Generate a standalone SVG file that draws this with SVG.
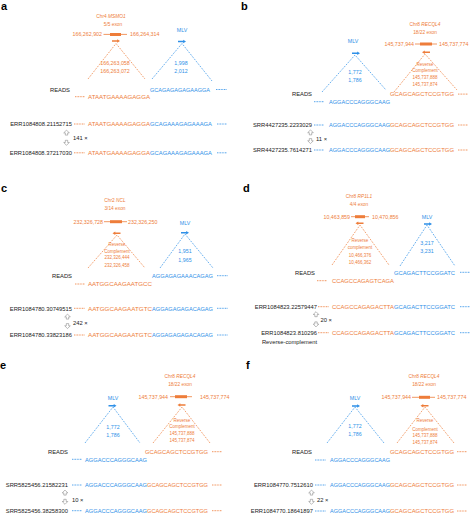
<svg xmlns="http://www.w3.org/2000/svg" width="474" height="522" viewBox="0 0 474 522">
<style>
text{font-family:"Liberation Sans",Arial,sans-serif}
.pl{font-size:11px;font-weight:bold;fill:#000}
.k{fill:#222}
.o{fill:#EE7D3A}
.b{fill:#2E90E8}
.lab{font-size:5.8px}
.seq{font-size:6px}
.gn{font-size:4.8px;text-anchor:middle}
.co{font-size:5.3px}
.rc{font-size:4.5px;text-anchor:middle}
.mid{text-anchor:middle}
.end{text-anchor:end}
.dl{fill:none;stroke-width:0.7;stroke-dasharray:1.8 1.2}
.so{stroke:#EE7D3A}
.sb{stroke:#2E90E8}
.dot{stroke-width:0.9;stroke-dasharray:0.9 0.7}
.gl{stroke:#EE7D3A;stroke-width:0.8}
.ha{fill:#fff;stroke:#777;stroke-width:0.5}
</style>
<defs>
<path id="ar" d="M-4,-0.8H1.2V-1.8L4,0L1.2,1.8V0.8H-4Z"/>
<path id="up" d="M0,-2.6L2.8,0.2H1.2V2.4H-1.2V0.2H-2.8Z"/>
</defs>

<g id="connectors">
<!-- a -->
<path class="dl so" d="M88,79L116,43.5L145,79"/>
<path class="dl sb" d="M152,79L182,43.5L212,81"/>
<!-- b -->
<path class="dl so" d="M394,92L425,54L457,90"/>
<path class="dl sb" d="M322,92L355,55L386,90"/>
<!-- c -->
<path class="dl so" d="M88,268L117,235L145,268"/>
<path class="dl sb" d="M160,268L185,234L213,268"/>
<!-- d -->
<path class="dl so" d="M332,265L360,225L389,265"/>
<path class="dl sb" d="M400,266L427,225L455,266"/>
<!-- e -->
<path class="dl so" d="M153,443L182,407L210,443"/>
<path class="dl sb" d="M85,443L113,407L140,443"/>
<!-- f -->
<path class="dl so" d="M397,443L425,407L454,443"/>
<path class="dl sb" d="M327,443L355,407L384,443"/>
</g>

<g id="panel-a">
<text class="pl" x="1" y="10">a</text>
<g id="a-gene">
<text class="gn o" x="111" y="18">Chr4 <tspan font-style="italic">MSMO1</tspan></text>
<text class="gn o" x="113" y="26">5/5 exon</text>
<text class="co o end" x="102" y="36.3">166,262,902</text>
<line class="gl" x1="103.5" y1="34.4" x2="127" y2="34.4"/>
<rect class="o" x="110" y="33" width="11" height="3"/>
<text class="co o" x="130" y="36.3">166,264,314</text>
<use href="#ar" class="o" x="116" y="41"/>
<text class="co o mid" x="115" y="65.3">166,263,058</text>
<text class="co o mid" x="115" y="73">166,263,072</text>
</g>
<g id="a-mlv">
<text class="co b mid" x="182" y="32.3">MLV</text>
<use href="#ar" class="b" x="182" y="41.5"/>
<text class="co b mid" x="181" y="65.3">1,998</text>
<text class="co b mid" x="181" y="73">2,012</text>
</g>
<g id="a-reads">
<text class="lab k end" x="70" y="91.5">READS</text>
<text class="seq b" x="150" y="91.5" textLength="60" lengthAdjust="spacingAndGlyphs">GCAGAGAGAGAAGGA</text>
<line class="dot sb" x1="216" y1="89.5" x2="227" y2="89.5"/>
<line class="dot so" x1="75" y1="96.7" x2="85" y2="96.7"/>
<text class="seq o" x="88" y="98.9" textLength="62" lengthAdjust="spacingAndGlyphs">ATAATGAAAAGAGGA</text>
</g>
<g id="a-read1">
<text class="lab k end" x="72" y="126.2">ERR1084808.21152715</text>
<line class="dot so" x1="74" y1="124" x2="85" y2="124"/>
<text class="seq o" x="88" y="126.2" textLength="62" lengthAdjust="spacingAndGlyphs">ATAATGAAAAGAGGA</text>
<text class="seq b" x="150" y="126.2" textLength="62" lengthAdjust="spacingAndGlyphs">GCAGAAAGAGAAAGA</text>
<line class="dot sb" x1="217" y1="124" x2="227" y2="124"/>
</g>
<g id="a-count">
<use href="#up" class="ha" transform="translate(66.5,132.7)"/>
<use href="#up" class="ha" transform="translate(66.5,142.7) rotate(180)"/>
<text class="lab k" x="73" y="139.5">141 ×</text>
</g>
<g id="a-read2">
<text class="lab k end" x="72" y="155">ERR1084808.37217030</text>
<line class="dot so" x1="74" y1="152.8" x2="85" y2="152.8"/>
<text class="seq o" x="88" y="155" textLength="62" lengthAdjust="spacingAndGlyphs">ATAATGAAAAGAGGA</text>
<text class="seq b" x="150" y="155" textLength="62" lengthAdjust="spacingAndGlyphs">GCAGAAAGAGAAAGA</text>
<line class="dot sb" x1="217" y1="152.8" x2="227" y2="152.8"/>
</g>
</g>

<g id="panel-b">
<text class="pl" x="241" y="10">b</text>
<g id="b-gene">
<text class="gn o" x="425" y="26">Chr8 <tspan font-style="italic">RECQL4</tspan></text>
<text class="gn o" x="425" y="34.3">18/22 exon</text>
<text class="co o end" x="414" y="46">145,737,944</text>
<line class="gl" x1="415" y1="44" x2="437" y2="44"/>
<rect class="o" x="420" y="42.5" width="12" height="3"/>
<text class="co o" x="439" y="46">145,737,774</text>
<use href="#ar" class="o" transform="translate(426,52.3) scale(-1,1)"/>
<text class="rc o" x="425" y="65.7">Reverse</text>
<text class="rc o" x="425" y="72.4">Complement</text>
<text class="rc o" x="425" y="78.7">145,737,888</text>
<text class="rc o" x="425" y="85.7">145,737,874</text>
</g>
<g id="b-mlv">
<text class="co b mid" x="353" y="42.5">MLV</text>
<use href="#ar" class="b" x="356" y="53.3"/>
<text class="co b mid" x="355" y="73.5">1,772</text>
<text class="co b mid" x="355" y="81.8">1,786</text>
</g>
<g id="b-reads">
<text class="lab k end" x="312" y="96.3">READS</text>
<text class="seq o" x="390" y="96.3" textLength="64" lengthAdjust="spacingAndGlyphs">GCAGCAGCTCCGTGG</text>
<line class="dot so" x1="458" y1="94.1" x2="468" y2="94.1"/>
<line class="dot sb" x1="314" y1="101.7" x2="324" y2="101.7"/>
<text class="seq b" x="329" y="103.9" textLength="61" lengthAdjust="spacingAndGlyphs">AGGACCCAGGGCAAG</text>
</g>
<g id="b-read1">
<text class="lab k end" x="312" y="127.2">SRR4427235.2233029</text>
<line class="dot sb" x1="314" y1="125" x2="324" y2="125"/>
<text class="seq b" x="329" y="127.2" textLength="61" lengthAdjust="spacingAndGlyphs">AGGACCCAGGGCAAG</text>
<text class="seq o" x="390" y="127.2" textLength="64" lengthAdjust="spacingAndGlyphs">GCAGCAGCTCCGTGG</text>
<line class="dot so" x1="458" y1="125" x2="468" y2="125"/>
</g>
<g id="b-count">
<use href="#up" class="ha" transform="translate(310.5,132.5)"/>
<use href="#up" class="ha" transform="translate(310.5,141) rotate(180)"/>
<text class="lab k" x="316" y="141">11 ×</text>
</g>
<g id="b-read2">
<text class="lab k end" x="312" y="152.2">SRR4427235.7614271</text>
<line class="dot sb" x1="314" y1="150" x2="324" y2="150"/>
<text class="seq b" x="329" y="152.2" textLength="61" lengthAdjust="spacingAndGlyphs">AGGACCCAGGGCAAG</text>
<text class="seq o" x="390" y="152.2" textLength="64" lengthAdjust="spacingAndGlyphs">GCAGCAGCTCCGTGG</text>
<line class="dot so" x1="458" y1="150" x2="468" y2="150"/>
</g>
</g>

<g id="panel-c">
<text class="pl" x="1" y="192">c</text>
<g id="c-gene">
<text class="gn o" x="115" y="202">Chr2 <tspan font-style="italic">NCL</tspan></text>
<text class="gn o" x="115" y="210.3">3/14 exon</text>
<text class="co o end" x="103" y="223.5">232,326,728</text>
<line class="gl" x1="104" y1="221.7" x2="127" y2="221.7"/>
<rect class="o" x="110" y="220.2" width="12" height="3"/>
<text class="co o" x="128" y="223.5">232,326,250</text>
<use href="#ar" class="o" transform="translate(116.5,233.3) scale(-1,1)"/>
<text class="rc o" x="117" y="245.7">Reverse</text>
<text class="rc o" x="117" y="252.7">Complement</text>
<text class="rc o" x="117" y="259.4">232,326,444</text>
<text class="rc o" x="117" y="266.7">232,326,458</text>
</g>
<g id="c-mlv">
<text class="co b mid" x="185" y="224.5">MLV</text>
<use href="#ar" class="b" x="185" y="232.7"/>
<text class="co b mid" x="185" y="252.8">1,951</text>
<text class="co b mid" x="185" y="261.8">1,965</text>
</g>
<g id="c-reads">
<text class="lab k end" x="72" y="277.9">READS</text>
<text class="seq b" x="152" y="277.9" textLength="61" lengthAdjust="spacingAndGlyphs">AGGAGAGAAACAGAG</text>
<line class="dot sb" x1="217" y1="275.7" x2="228" y2="275.7"/>
<line class="dot so" x1="75" y1="284" x2="85" y2="284"/>
<text class="seq o" x="88" y="286.2" textLength="64" lengthAdjust="spacingAndGlyphs">AATGGCAAGAATGCC</text>
</g>
<g id="c-read1">
<text class="lab k end" x="72" y="310.5">ERR1084780.30749515</text>
<line class="dot so" x1="74" y1="308.3" x2="85" y2="308.3"/>
<text class="seq o" x="88" y="310.5" textLength="64" lengthAdjust="spacingAndGlyphs">AATGGCAAGAATGTC</text>
<text class="seq b" x="152" y="310.5" textLength="61" lengthAdjust="spacingAndGlyphs">AGGAGAGAGACAGAG</text>
<line class="dot sb" x1="217" y1="308.3" x2="228" y2="308.3"/>
</g>
<g id="c-count">
<use href="#up" class="ha" transform="translate(67.5,316.7)"/>
<use href="#up" class="ha" transform="translate(67.5,326) rotate(180)"/>
<text class="lab k" x="73" y="324.5">242 ×</text>
</g>
<g id="c-read2">
<text class="lab k end" x="72" y="337.2">ERR1084780.33823186</text>
<line class="dot so" x1="74" y1="335" x2="85" y2="335"/>
<text class="seq o" x="88" y="337.2" textLength="64" lengthAdjust="spacingAndGlyphs">AATGGCAAGAATGTC</text>
<text class="seq b" x="152" y="337.2" textLength="61" lengthAdjust="spacingAndGlyphs">AGGAGAGAGACAGAG</text>
<line class="dot sb" x1="217" y1="335" x2="228" y2="335"/>
</g>
</g>

<g id="panel-d">
<text class="pl" x="243" y="192">d</text>
<g id="d-gene">
<text class="gn o" x="359" y="197.5">Chr8 <tspan font-style="italic">RP1L1</tspan></text>
<text class="gn o" x="359" y="205.8">4/4 exon</text>
<text class="co o end" x="350" y="218.5">10,463,859</text>
<line class="gl" x1="351" y1="216.7" x2="369" y2="216.7"/>
<rect class="o" x="355" y="215.2" width="10" height="3"/>
<text class="co o" x="372" y="218.5">10,470,856</text>
<use href="#ar" class="o" transform="translate(359.5,223.3) scale(-1,1)"/>
<text class="rc o" x="360" y="242.4">Reverse</text>
<text class="rc o" x="360" y="249">complement</text>
<text class="rc o" x="360" y="256.7">10,466,376</text>
<text class="rc o" x="360" y="264">10,466,362</text>
</g>
<g id="d-mlv">
<text class="co b mid" x="427" y="219">MLV</text>
<use href="#ar" class="b" x="428" y="224"/>
<text class="co b mid" x="427" y="245">3,217</text>
<text class="co b mid" x="427" y="252.8">3,231</text>
</g>
<g id="d-reads">
<text class="lab k end" x="315" y="274.5">READS</text>
<text class="seq b" x="394" y="274.5" textLength="61" lengthAdjust="spacingAndGlyphs">GCAGACTTCCGGATC</text>
<line class="dot sb" x1="460" y1="272.3" x2="470" y2="272.3"/>
<line class="dot so" x1="317" y1="280.7" x2="327" y2="280.7"/>
<text class="seq o" x="332" y="282.9" textLength="62" lengthAdjust="spacingAndGlyphs">CCAGCCAGAGTCAGA</text>
</g>
<g id="d-read1">
<text class="lab k end" x="317" y="308.9">ERR1084823.22579447</text>
<line class="dot so" x1="318" y1="306.7" x2="329" y2="306.7"/>
<text class="seq o" x="332" y="308.9" textLength="62" lengthAdjust="spacingAndGlyphs">CCAGCCAGAGACTTA</text>
<text class="seq b" x="394" y="308.9" textLength="61" lengthAdjust="spacingAndGlyphs">GCAGACTTCCGGATC</text>
<line class="dot sb" x1="460" y1="306.7" x2="470" y2="306.7"/>
</g>
<g id="d-count">
<use href="#up" class="ha" transform="translate(316,314.3)"/>
<use href="#up" class="ha" transform="translate(316,324.3) rotate(180)"/>
<text class="lab k" x="320.5" y="322.2">20 ×</text>
</g>
<g id="d-read2">
<text class="lab k end" x="317" y="334.9">ERR1084823.810296</text>
<text class="lab k end" x="317" y="343.9">Reverse-complement</text>
<line class="dot so" x1="318" y1="332.7" x2="329" y2="332.7"/>
<text class="seq o" x="332" y="334.9" textLength="62" lengthAdjust="spacingAndGlyphs">CCAGCCAGAGACTTA</text>
<text class="seq b" x="394" y="334.9" textLength="61" lengthAdjust="spacingAndGlyphs">GCAGACTTCCGGATC</text>
<line class="dot sb" x1="460" y1="332.7" x2="470" y2="332.7"/>
</g>
</g>

<g id="panel-e">
<text class="pl" x="0" y="369">e</text>
<g id="e-gene">
<text class="gn o" x="180" y="378">Chr8 <tspan font-style="italic">RECQL4</tspan></text>
<text class="gn o" x="180" y="386">18/22 exon</text>
<text class="co o end" x="168" y="398.5">145,737,944</text>
<line class="gl" x1="170" y1="396.7" x2="192" y2="396.7"/>
<rect class="o" x="175" y="395.2" width="12" height="3"/>
<text class="co o" x="200" y="398.5">145,737,774</text>
<use href="#ar" class="o" transform="translate(181.5,405) scale(-1,1)"/>
<text class="rc o" x="182" y="421.7">Reverse</text>
<text class="rc o" x="182" y="428.4">Complement</text>
<text class="rc o" x="182" y="435">145,737,888</text>
<text class="rc o" x="182" y="442.4">145,737,874</text>
</g>
<g id="e-mlv">
<text class="co b mid" x="113" y="399.5">MLV</text>
<use href="#ar" class="b" x="112.5" y="405.7"/>
<text class="co b mid" x="113" y="428.5">1,772</text>
<text class="co b mid" x="113" y="436.8">1,786</text>
</g>
<g id="e-reads">
<text class="lab k end" x="68" y="453.9">READS</text>
<text class="seq o" x="145" y="453.9" textLength="63" lengthAdjust="spacingAndGlyphs">GCAGCAGCTCCGTGG</text>
<line class="dot so" x1="212" y1="451.7" x2="222" y2="451.7"/>
<line class="dot sb" x1="72" y1="459.3" x2="82" y2="459.3"/>
<text class="seq b" x="85" y="461.5" textLength="62" lengthAdjust="spacingAndGlyphs">AGGACCCAGGGCAAG</text>
</g>
<g id="e-read1">
<text class="lab k end" x="68" y="487.2">SRR5825456.21582231</text>
<line class="dot sb" x1="72" y1="485" x2="82" y2="485"/>
<text class="seq b" x="85" y="487.2" textLength="62" lengthAdjust="spacingAndGlyphs">AGGACCCAGGGCAAG</text>
<text class="seq o" x="147" y="487.2" textLength="61" lengthAdjust="spacingAndGlyphs">GCAGCAGCTCCGTGG</text>
<line class="dot so" x1="212" y1="485" x2="222" y2="485"/>
</g>
<g id="e-count">
<use href="#up" class="ha" transform="translate(65,492.7)"/>
<use href="#up" class="ha" transform="translate(65,501.7) rotate(180)"/>
<text class="lab k" x="72" y="501.5">10 ×</text>
</g>
<g id="e-read2">
<text class="lab k end" x="68" y="512.9">SRR5825456.38258300</text>
<line class="dot sb" x1="72" y1="510.7" x2="82" y2="510.7"/>
<text class="seq b" x="85" y="512.9" textLength="62" lengthAdjust="spacingAndGlyphs">AGGACCCAGGGCAAG</text>
<text class="seq o" x="147" y="512.9" textLength="61" lengthAdjust="spacingAndGlyphs">GCAGCAGCTCCGTGG</text>
<line class="dot so" x1="212" y1="510.7" x2="222" y2="510.7"/>
</g>
</g>

<g id="panel-f">
<text class="pl" x="246" y="369">f</text>
<g id="f-gene">
<text class="gn o" x="424" y="378">Chr8 <tspan font-style="italic">RECQL4</tspan></text>
<text class="gn o" x="424" y="386">18/22 exon</text>
<text class="co o end" x="411" y="399.2">145,737,944</text>
<line class="gl" x1="412" y1="397.3" x2="435" y2="397.3"/>
<rect class="o" x="419" y="395.8" width="11" height="3"/>
<text class="co o" x="437" y="399.2">145,737,774</text>
<use href="#ar" class="o" transform="translate(424.5,405.7) scale(-1,1)"/>
<text class="rc o" x="425" y="422.4">Reverse</text>
<text class="rc o" x="425" y="430.7">Complement</text>
<text class="rc o" x="425" y="437.4">145,737,888</text>
<text class="rc o" x="425" y="444.4">145,737,874</text>
</g>
<g id="f-mlv">
<text class="co b mid" x="355" y="399.5">MLV</text>
<use href="#ar" class="b" x="356" y="406"/>
<text class="co b mid" x="355" y="427.8">1,772</text>
<text class="co b mid" x="355" y="435.8">1,786</text>
</g>
<g id="f-reads">
<text class="lab k end" x="312" y="453.9">READS</text>
<text class="seq o" x="390" y="453.9" textLength="64" lengthAdjust="spacingAndGlyphs">GCAGCAGCTCCGTGG</text>
<line class="dot so" x1="457" y1="451.7" x2="467" y2="451.7"/>
<line class="dot sb" x1="315" y1="460" x2="326" y2="460"/>
<text class="seq b" x="330" y="462.2" textLength="60" lengthAdjust="spacingAndGlyphs">AGGACCCAGGGCAAG</text>
</g>
<g id="f-read1">
<text class="lab k end" x="313" y="487.2">ERR1084770.7512610</text>
<line class="dot sb" x1="315" y1="485" x2="326" y2="485"/>
<text class="seq b" x="330" y="487.2" textLength="60" lengthAdjust="spacingAndGlyphs">AGGACCCAGGGCAAG</text>
<text class="seq o" x="390" y="487.2" textLength="64" lengthAdjust="spacingAndGlyphs">GCAGCAGCTCCGTGG</text>
<line class="dot so" x1="457" y1="485" x2="467" y2="485"/>
</g>
<g id="f-count">
<use href="#up" class="ha" transform="translate(311.5,492.7)"/>
<use href="#up" class="ha" transform="translate(311.5,501.7) rotate(180)"/>
<text class="lab k" x="317" y="502.2">22 ×</text>
</g>
<g id="f-read2">
<text class="lab k end" x="313" y="513.2">ERR1084770.18641897</text>
<line class="dot sb" x1="315" y1="511" x2="326" y2="511"/>
<text class="seq b" x="330" y="513.2" textLength="60" lengthAdjust="spacingAndGlyphs">AGGACCCAGGGCAAG</text>
<text class="seq o" x="390" y="513.2" textLength="64" lengthAdjust="spacingAndGlyphs">GCAGCAGCTCCGTGG</text>
<line class="dot so" x1="457" y1="511" x2="467" y2="511"/>
</g>
</g>
</svg>
